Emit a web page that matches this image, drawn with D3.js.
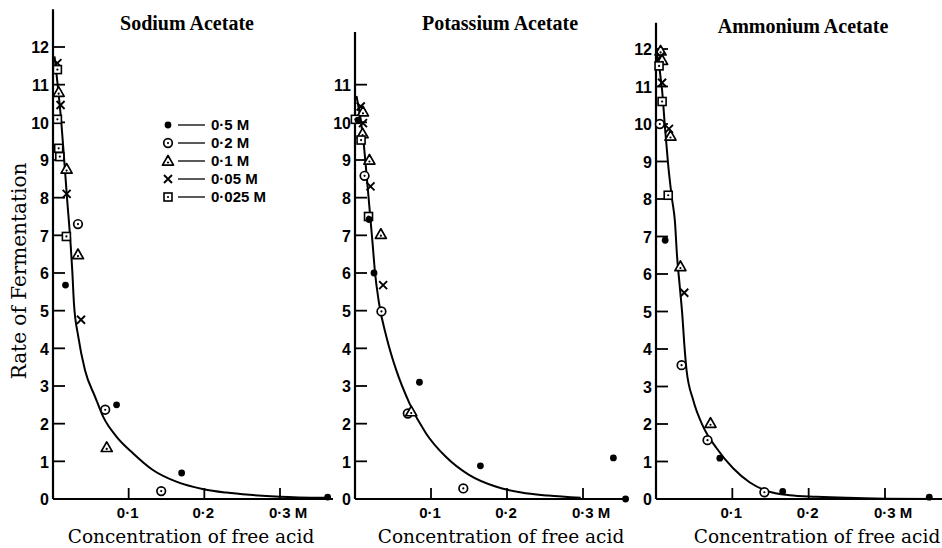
<!DOCTYPE html>
<html><head><meta charset="utf-8">
<script src="https://cdn.jsdelivr.net/npm/d3@7"></script>
<style>body{margin:0;background:#fff}svg{display:block}</style>
</head><body>
<svg id="chart" width="942" height="548"></svg>
<script>
// ---- data ----
const seriesNames = ["0·5 M", "0·2 M", "0·1 M", "0·05 M", "0·025 M"];
const panelTitles = ["Sodium Acetate", "Potassium Acetate", "Ammonium Acetate"];
const xTickValues = [0.1, 0.2, 0.3];
const xTickLabels = ["0·1", "0·2", "0·3 M"];
const yTicksSodium = [0,1,2,3,4,5,6,7,8,9,10,11,12];
const yTicksPotassium = [0,1,2,3,4,5,6,7,8,9,10,11];
const yTicksAmmonium = [0,1,2,3,4,5,6,7,8,9,10,11,12];

// points: [x (M free acid), rate, series index]
const sodiumPoints = [
  [0.0058,11.57,3],[0.0058,11.4,4],[0.0075,10.8,2],[0.01,10.46,3],[0.0058,10.08,4],
  [0.0075,9.31,4],[0.009,9.09,4],[0.018,8.76,2],[0.018,8.1,3],[0.033,7.3,1],
  [0.0177,6.97,4],[0.033,6.49,2],[0.0165,5.68,0],[0.037,4.76,3],[0.069,2.37,1],
  [0.084,2.5,0],[0.071,1.37,2],[0.17,0.69,0],[0.143,0.21,1],[0.363,0.05,0]
];
const potassiumPoints = [
  [0.0075,10.42,3],[0.0105,10.28,2],[0.0005,10.08,4],[0.004,10.06,0],[0.0105,9.98,3],
  [0.01,9.7,2],[0.008,9.53,4],[0.019,9.0,2],[0.0126,8.58,1],[0.0204,8.3,3],
  [0.0178,7.5,4],[0.0185,7.42,0],[0.034,7.03,2],[0.025,6.0,0],[0.037,5.68,3],
  [0.0348,4.98,1],[0.0848,3.1,0],[0.0695,2.27,1],[0.074,2.32,2],[0.165,0.88,0],
  [0.1425,0.28,1],[0.34,1.09,0],[0.356,0.0,0]
];
const ammoniumPoints = [
  [0.006,11.95,2],[0.006,11.8,3],[0.008,11.7,2],[0.004,11.55,4],[0.008,11.1,3],
  [0.008,10.6,4],[0.005,10.0,1],[0.017,9.87,3],[0.019,9.68,2],[0.016,8.1,4],
  [0.012,6.9,0],[0.032,6.2,2],[0.037,5.5,3],[0.0335,3.57,1],[0.0714,2.02,2],
  [0.0675,1.57,1],[0.0836,1.09,0],[0.142,0.18,1],[0.166,0.2,0],[0.358,0.05,0]
];

// fitted curves
const sodiumCurve = [
  [0.002,11.75],[0.011,10.0],[0.0185,8.0],[0.0235,6.7],[0.0255,6.05],[0.0277,5.19],
  [0.0334,4.31],[0.0423,3.42],[0.0555,2.72],[0.0664,2.18],[0.0841,1.65],[0.106,1.21],
  [0.132,0.77],[0.163,0.46],[0.199,0.26],[0.229,0.17],[0.26,0.11],[0.3,0.06],[0.36,0.03]
];
const potassiumCurve = [
  [0.002,10.7],[0.0105,9.62],[0.017,8.2],[0.0235,6.7],[0.026,6.08],[0.0317,5.19],
  [0.0413,4.31],[0.0543,3.42],[0.0717,2.54],[0.0935,1.74],[0.1195,1.12],[0.15,0.64],
  [0.185,0.33],[0.219,0.17],[0.254,0.09],[0.297,0.03]
];
const ammoniumCurve = [
  [0.001,11.9],[0.008,10.9],[0.012,9.85],[0.016,8.9],[0.021,8.0],[0.0248,7.4],
  [0.0275,6.5],[0.031,5.7],[0.0345,4.9],[0.037,4.15],[0.04,3.44],[0.0487,2.64],
  [0.0618,1.93],[0.0792,1.36],[0.101,0.82],[0.123,0.44],[0.1445,0.22],[0.175,0.1],
  [0.21,0.06],[0.3,0.01],[0.37,0.0]
];

// ---- layout ----
const panels = [
  {title: panelTitles[0], pts: sodiumPoints, curve: sodiumCurve, yTicks: yTicksSodium,
   x0: 53, x03: 280, xMax: 0.37, y12: 47, yTop: 13.0, titleX: 187, titleY: 30, xlabX: 191, legend: true},
  {title: panelTitles[1], pts: potassiumPoints, curve: potassiumCurve, yTicks: yTicksPotassium,
   x0: 355, x03: 583, xMax: 0.36, y12: 47, yTop: 12.4, titleX: 500, titleY: 30, xlabX: 501, legend: false},
  {title: panelTitles[2], pts: ammoniumPoints, curve: ammoniumCurve, yTicks: yTicksAmmonium,
   x0: 656, x03: 885, xMax: 0.377, y12: 49, yTop: 12.7, titleX: 803, titleY: 33, xlabX: 817, legend: false}
];
const yZero = 499;

const svg = d3.select("#chart");
const sansBold = "'Liberation Sans', Arial, sans-serif";
const serif = "'DejaVu Serif', 'Liberation Serif', serif";
const titleSerif = "'Liberation Serif', 'Times New Roman', serif";

function marker(g, s, cx, cy) {
  if (s === 0) {
    g.append("circle").attr("cx", cx).attr("cy", cy).attr("r", 3.4).attr("fill", "#000");
  } else if (s === 1) {
    g.append("circle").attr("cx", cx).attr("cy", cy).attr("r", 4.3)
      .attr("fill", "#fff").attr("stroke", "#000").attr("stroke-width", 1.7);
    g.append("circle").attr("cx", cx).attr("cy", cy).attr("r", 1.1).attr("fill", "#000");
  } else if (s === 2) {
    const h = 5.5;
    g.append("path").attr("d", `M${cx},${cy-h} L${cx+h},${cy+h*0.75} L${cx-h},${cy+h*0.75} Z`)
      .attr("fill", "#fff").attr("stroke", "#000").attr("stroke-width", 1.7).attr("stroke-linejoin", "round");
    g.append("circle").attr("cx", cx).attr("cy", cy+1.5).attr("r", 1.1).attr("fill", "#000");
  } else if (s === 3) {
    const h = 4;
    g.append("path").attr("d", `M${cx-h},${cy-h} L${cx+h},${cy+h} M${cx+h},${cy-h} L${cx-h},${cy+h}`)
      .attr("stroke", "#000").attr("stroke-width", 1.9).attr("fill", "none");
  } else {
    const h = 4;
    g.append("rect").attr("x", cx-h).attr("y", cy-h).attr("width", 2*h).attr("height", 2*h)
      .attr("fill", "#fff").attr("stroke", "#000").attr("stroke-width", 1.6);
    g.append("circle").attr("cx", cx).attr("cy", cy).attr("r", 1.1).attr("fill", "#000");
  }
}

panels.forEach(p => {
  const x = d3.scaleLinear().domain([0, 0.3]).range([p.x0, p.x03]);
  const y = d3.scaleLinear().domain([0, 12]).range([yZero, p.y12]);
  const g = svg.append("g");

  // axes lines
  g.append("line").attr("x1", p.x0).attr("x2", p.x0).attr("y1", y(p.yTop)).attr("y2", yZero)
    .attr("stroke", "#000").attr("stroke-width", 2.2);
  g.append("line").attr("x1", p.x0).attr("x2", x(p.xMax)).attr("y1", yZero).attr("y2", yZero)
    .attr("stroke", "#000").attr("stroke-width", 2.2);

  // y ticks
  const yAxis = d3.axisLeft(y).tickValues(p.yTicks).tickSize(0).tickPadding(4).tickFormat(d3.format("d"));
  const ya = g.append("g").attr("transform", `translate(${p.x0},0)`).call(yAxis);
  ya.select(".domain").remove();
  ya.selectAll("text").attr("font-family", sansBold).attr("font-weight", "bold")
    .attr("font-size", 16).attr("fill", "#000").attr("dy", "0.36em");
  g.selectAll("line.yt").data(p.yTicks.filter(v => v > 0)).join("line")
    .attr("x1", p.x0).attr("x2", p.x0 + 12).attr("y1", d => y(d)).attr("y2", d => y(d))
    .attr("stroke", "#000").attr("stroke-width", 1.8);

  // x ticks
  g.selectAll("line.xt").data(xTickValues).join("line")
    .attr("x1", d => x(d)).attr("x2", d => x(d)).attr("y1", yZero).attr("y2", yZero - 11)
    .attr("stroke", "#000").attr("stroke-width", 1.8);
  g.selectAll("text.xl").data(xTickValues).join("text")
    .attr("x", (d, i) => i === 2 ? x(d) - 11 : x(d) - 1)
    .attr("y", 518)
    .attr("text-anchor", (d, i) => i === 2 ? "start" : "middle")
    .attr("font-family", sansBold).attr("font-weight", "bold").attr("font-size", 15)
    .text((d, i) => xTickLabels[i]);

  // curve
  const line = d3.line().x(d => x(d[0])).y(d => y(d[1])).curve(d3.curveMonotoneX);
  g.append("path").attr("d", line(p.curve)).attr("fill", "none")
    .attr("stroke", "#000").attr("stroke-width", 2);

  // points
  p.pts.forEach(d => marker(g, d[2], x(d[0]), y(d[1])));

  // title
  g.append("text").attr("x", p.titleX).attr("y", p.titleY).attr("text-anchor", "middle")
    .attr("font-family", titleSerif).attr("font-weight", "bold").attr("font-size", 20).text(p.title);
  // x label
  g.append("text").attr("x", p.xlabX).attr("y", 543).attr("text-anchor", "middle")
    .attr("font-family", serif).attr("font-size", 18.5).text("Concentration of free acid");

  if (p.legend) {
    const lg = svg.append("g");
    seriesNames.forEach((name, i) => {
      const cy = 125 + i * 18;
      marker(lg, i, 168, cy);
      lg.append("line").attr("x1", 178).attr("x2", 205).attr("y1", cy).attr("y2", cy)
        .attr("stroke", "#000").attr("stroke-width", 1.3);
      lg.append("text").attr("x", 211).attr("y", cy + 5).attr("font-family", sansBold)
        .attr("font-weight", "bold").attr("font-size", 15).text(name);
    });
  }
});

// y-axis title
svg.append("text").attr("transform", "translate(26,271) rotate(-90)").attr("text-anchor", "middle")
  .attr("font-family", serif).attr("font-size", 20).text("Rate of Fermentation");
</script>
</body></html>
